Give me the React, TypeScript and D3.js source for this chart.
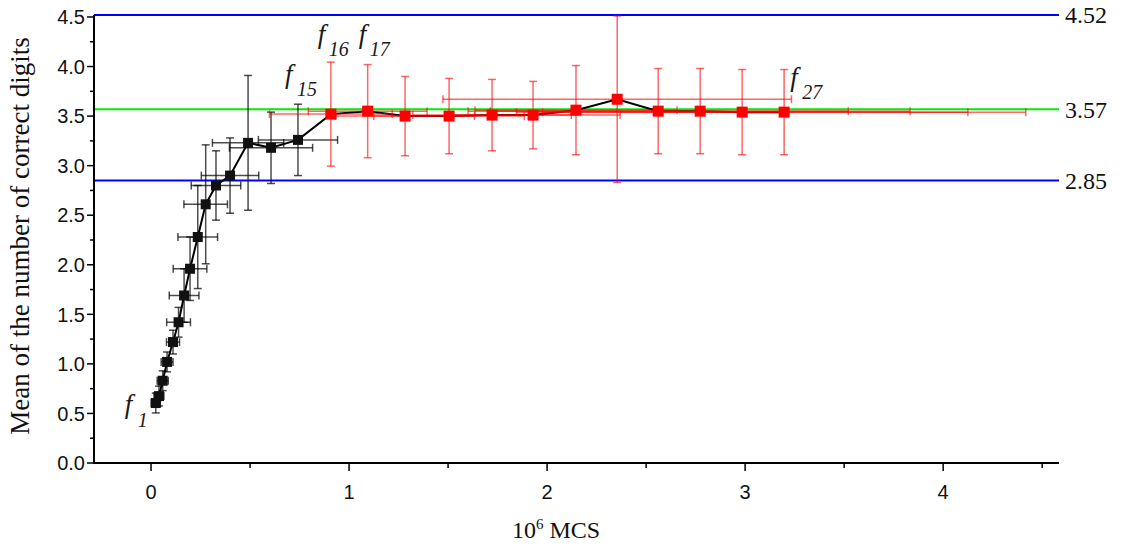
import React from 'react';
import * as d3 from 'd3';

// f1..f15 (black series)
const blackX = [0.024, 0.040, 0.059, 0.081, 0.111, 0.139, 0.167, 0.197, 0.236, 0.276, 0.328, 0.399, 0.490, 0.606, 0.742];
const blackY = [0.605, 0.675, 0.83, 1.02, 1.22, 1.42, 1.69, 1.96, 2.28, 2.61, 2.80, 2.90, 3.23, 3.18, 3.26];
const blackXErr = [0.023, 0.025, 0.028, 0.03, 0.033, 0.06, 0.075, 0.085, 0.1, 0.11, 0.125, 0.145, 0.18, 0.21, 0.2];
const blackYErr = [0.1, 0.1, 0.1, 0.1, 0.12, 0.15, 0.27, 0.32, 0.52, 0.6, 0.35, 0.38, 0.68, 0.36, 0.36];
// f16..f27 (red series)
const redX = [0.908, 1.094, 1.283, 1.505, 1.722, 1.929, 2.146, 2.354, 2.561, 2.773, 2.985, 3.197];
const redY = [3.52, 3.55, 3.50, 3.50, 3.51, 3.51, 3.56, 3.67, 3.55, 3.55, 3.54, 3.54];
const redXErr = [0.31, 0.3, 0.35, 0.38, 0.4, 0.44, 0.51, 0.88, 0.96, 1.06, 1.14, 1.22];
const redYErr = [0.525, 0.47, 0.4, 0.38, 0.36, 0.34, 0.45, 0.84, 0.43, 0.43, 0.43, 0.43];

const refValues = [4.52, 3.57, 2.85];
const refLabels = ['4.52', '3.57', '2.85'];
const refColors = ['#0000ff', '#00ee00', '#0000ff'];

const xTicks = [0, 1, 2, 3, 4];
const xMinor = [0.5, 1.5, 2.5, 3.5, 4.5];
const yTicks = [0, 0.5, 1, 1.5, 2, 2.5, 3, 3.5, 4, 4.5];
const yMinor = [0.25, 0.75, 1.25, 1.75, 2.25, 2.75, 3.25, 3.75, 4.25];

// annotation: point index (0-based over all 27), subscript text
const annIndex = [0, 14, 15, 16, 26];
const annSub = ['1', '15', '16', '17', '27'];

const W = 1124, H = 551;
const SERIF = '"Liberation Serif", "Times New Roman", serif';
const SANS = '"Liberation Sans", Arial, sans-serif';

export default function App() {
  const x = d3.scaleLinear().domain([-0.288, 4.585]).range([94, 1059]);
  const y = d3.scaleLinear().domain([0, 4.52]).range([463, 15]);

  const allX = [...blackX, ...redX];
  const allY = [...blackY, ...redY];
  const line = d3.line<number>().x((d, i) => x(allX[i])).y((d, i) => y(allY[i]));

  const annOffsets: [number, number, number, number][] = [
    [-31, 10, 13, 14],
    [-13, -57, 12, 13],
    [-13, -71, 11, 13],
    [-9, -68, 11, 13],
    [6, -26, 12, 13],
  ];

  const errBars = (xs: number[], ys: number[], xe: number[], ye: number[], color: string, op: number) =>
    xs.map((xv, i) => {
      const cx = x(xv), cy = y(ys[i]);
      const x0 = x(xv - xe[i]), x1 = x(xv + xe[i]);
      const y0 = y(ys[i] - ye[i]), y1 = y(ys[i] + ye[i]);
      return (
        <g key={i} stroke={color} strokeOpacity={op} strokeWidth={1.5} fill="none">
          <line x1={x0} x2={x1} y1={cy} y2={cy} />
          <line x1={x0} x2={x0} y1={cy - 4} y2={cy + 4} />
          <line x1={x1} x2={x1} y1={cy - 4} y2={cy + 4} />
          <line x1={cx} x2={cx} y1={y0} y2={y1} />
          <line x1={cx - 4} x2={cx + 4} y1={y0} y2={y0} />
          <line x1={cx - 4} x2={cx + 4} y1={y1} y2={y1} />
        </g>
      );
    });

  return (
    <svg width={W} height={H} style={{ position: 'absolute', left: 0, top: 0, background: '#fff' }}>
      {/* reference lines */}
      {refValues.map((v, i) => (
        <g key={i}>
          <line x1={x.range()[0]} x2={x.range()[1]} y1={y(v)} y2={y(v)} stroke={refColors[i]} strokeWidth={2} />
          <text x={x.range()[1] + 6} y={y(v)} dy="0.35em" fontFamily={SERIF} fontSize={24} fill="#111">{refLabels[i]}</text>
        </g>
      ))}

      {/* connecting line */}
      <path d={line(allX) || ''} fill="none" stroke="#000" strokeWidth={2} />

      {/* black error bars */}
      {errBars(blackX, blackY, blackXErr, blackYErr, '#000', 0.7)}
      {/* black squares */}
      {blackX.map((xv, i) => (
        <rect key={i} x={x(xv) - 5} y={y(blackY[i]) - 5} width={10} height={10} fill="#111" />
      ))}

      {/* red error bars */}
      {errBars(redX, redY, redXErr, redYErr, '#ff0000', 0.6)}
      {redX.map((xv, i) => (
        <rect key={i} x={x(xv) - 5.5} y={y(redY[i]) - 5.5} width={11} height={11} fill="#ff0000" />
      ))}

      {/* annotations */}
      {annIndex.map((idx, k) => {
        const px = x(allX[idx]), py = y(allY[idx]);
        const [dx, dy, sdx, sdy] = annOffsets[k];
        return (
          <g key={k} fontFamily={SERIF} fontStyle="italic" fill="#1a1a1a">
            <text x={px + dx} y={py + dy} fontSize={27}>f</text>
            <text x={px + dx + sdx} y={py + dy + sdy} fontSize={20}>{annSub[k]}</text>
          </g>
        );
      })}

      {/* axes */}
      <line x1={94} x2={94} y1={y.range()[1]} y2={y.range()[0]} stroke="#000" strokeWidth={2} />
      <line x1={93} x2={x.range()[1]} y1={y.range()[0]} y2={y.range()[0]} stroke="#000" strokeWidth={2} />
      {yTicks.map((t) => (
        <g key={t}>
          <line x1={87} x2={94} y1={y(t)} y2={y(t)} stroke="#000" strokeWidth={1.5} />
          <text x={85} y={y(t)} dy="0.36em" textAnchor="end" fontFamily={SANS} fontSize={20} fill="#111">{t.toFixed(1)}</text>
        </g>
      ))}
      {yMinor.map((t) => (
        <line key={t} x1={90} x2={94} y1={y(t)} y2={y(t)} stroke="#000" strokeWidth={1.5} />
      ))}
      {xTicks.map((t) => (
        <g key={t}>
          <line x1={x(t)} x2={x(t)} y1={463} y2={471} stroke="#000" strokeWidth={1.5} />
          <text x={x(t)} y={499} textAnchor="middle" fontFamily={SANS} fontSize={20} fill="#111">{t}</text>
        </g>
      ))}
      {xMinor.map((t) => (
        <line key={t} x1={x(t)} x2={x(t)} y1={463} y2={468} stroke="#000" strokeWidth={1.5} />
      ))}

      {/* axis titles */}
      <text transform={`translate(29, 236) rotate(-90)`} textAnchor="middle" fontFamily={SERIF} fontSize={27} fill="#111">
        Mean of the number of correct digits
      </text>
      <text x={556} y={538} textAnchor="middle" fontFamily={SERIF} fontSize={24} fill="#111">
        10<tspan dy={-9} fontSize={15}>6</tspan><tspan dy={9}> MCS</tspan>
      </text>
    </svg>
  );
}
